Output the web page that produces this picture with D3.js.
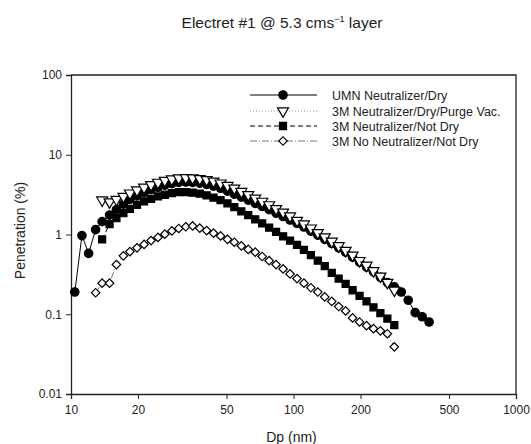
<!DOCTYPE html>
<html>
<head>
<meta charset="utf-8">
<script src="https://cdn.jsdelivr.net/npm/d3@7"></script>
<style>
  body { margin: 0; background: #fff; }
  text { font-family: "Liberation Sans", Arial, sans-serif; fill: #222; }
</style>
</head>
<body>
<div id="container"></div>
<script>
/* CONSTANTS AND GLOBALS */
const width = 531, height = 444;
const margin = { left: 71, right: 15, top: 75, bottom: 50 };

/* DATA */
// particle diameter channels (nm)
const dp = [10.4, 11.2, 12.0, 12.9, 13.8, 14.9, 16.0, 17.2, 18.4, 19.8,
  21.3, 22.9, 24.6, 26.4, 28.4, 30.5, 32.8, 35.2, 37.9, 40.7,
  43.7, 47.0, 50.5, 54.2, 58.3, 62.6, 67.3, 72.3, 77.7, 83.5,
  89.8, 96.5, 103.7, 111.4, 119.7, 128.6, 138.2, 148.6, 159.6, 171.5,
  184.3, 198.1, 212.9, 228.8, 245.8, 264.2, 283.9, 305.1, 327.8, 352.3,
  378.6, 406.8];

// penetration (%) per series, null where no point
const umnDry = [0.19, 0.97, 0.58, 1.15, 1.45, 1.75, 2.05, 2.4, 2.75, 3.05,
  3.35, 3.65, 3.9, 4.15, 4.35, 4.5, 4.55, 4.5, 4.4, 4.25,
  4.05, 3.8, 3.5, 3.2, 2.95, 2.7, 2.45, 2.25, 2.05, 1.85,
  1.68, 1.52, 1.38, 1.24, 1.1, 0.98, 0.87, 0.77, 0.68, 0.6,
  0.52, 0.45, 0.39, 0.34, 0.29, 0.25, 0.22, 0.19, 0.15, 0.105,
  0.093, 0.08];

const purgeVac = [null, null, null, null, 2.7, 2.55, 2.75, 3.0, 3.3, 3.6,
  3.9, 4.2, 4.5, 4.75, 4.95, 5.1, 5.15, 5.1, 5.0, 4.85,
  4.65, 4.4, 4.1, 3.8, 3.45, 3.15, 2.85, 2.6, 2.35, 2.1,
  1.9, 1.7, 1.5, 1.35, 1.2, 1.05, 0.93, 0.82, 0.72, 0.63,
  0.55, 0.47, 0.41, 0.35, 0.3, 0.25, 0.2];

const notDry = [null, null, null, null, 0.87, 1.35, 1.6, 1.85, 2.1, 2.35,
  2.6, 2.8, 3.0, 3.15, 3.3, 3.4, 3.4, 3.35, 3.25, 3.1,
  2.9, 2.7, 2.45, 2.2, 1.95, 1.75, 1.55, 1.38, 1.22, 1.08,
  0.95, 0.84, 0.74, 0.64, 0.55, 0.47, 0.4, 0.33, 0.28, 0.24,
  0.2, 0.17, 0.145, 0.122, 0.103, 0.088, 0.073];

const noNeutralizer = [null, null, null, 0.186, 0.245, 0.245, 0.42, 0.54, 0.61, 0.68,
  0.75, 0.84, 0.92, 1.01, 1.11, 1.19, 1.25, 1.28, 1.2, 1.12,
  1.04, 0.96, 0.87, 0.8, 0.72, 0.65, 0.6, 0.53, 0.47, 0.42,
  0.37, 0.32, 0.28, 0.245, 0.215, 0.19, 0.165, 0.145, 0.125, 0.11,
  0.09, 0.08, 0.072, 0.066, 0.062, 0.057, 0.039];

const seriesNames = ["UMN Neutralizer/Dry", "3M Neutralizer/Dry/Purge Vac.",
  "3M Neutralizer/Not Dry", "3M No Neutralizer/Not Dry"];
const xTicks = [10, 20, 50, 100, 200, 500, 1000];
const yTicks = [0.01, 0.1, 1, 10, 100];

const series = [
  { name: seriesNames[0], values: umnDry, symbol: d3.symbolCircle, size: 56, rot: 0, fill: "#000", stroke: "#000", dash: null, lineColor: "#000" },
  { name: seriesNames[1], values: purgeVac, symbol: d3.symbolTriangle, size: 52, rot: 180, fill: "#fff", stroke: "#000", dash: "1,2", lineColor: "#999" },
  { name: seriesNames[2], values: notDry, symbol: d3.symbolSquare, size: 50, rot: 0, fill: "#000", stroke: "#000", dash: "5,3", lineColor: "#000" },
  { name: seriesNames[3], values: noNeutralizer, symbol: d3.symbolSquare, size: 36, rot: 45, fill: "#fff", stroke: "#000", dash: "7,2,1,2", lineColor: "#777" }
];

/* SVG */
const svg = d3.select("#container")
  .append("svg")
  .attr("width", width)
  .attr("height", height);

// SCALES
const x = d3.scaleLog()
  .domain([10, 1000])
  .range([margin.left, width - margin.right]);

const y = d3.scaleLog()
  .domain([0.01, 100])
  .range([394, margin.top]);

// title
const title = svg.append("text")
  .attr("x", 282)
  .attr("y", 28)
  .attr("text-anchor", "middle")
  .style("font-size", "15.5px");
title.append("tspan").text("Electret #1 @ 5.3 cms");
title.append("tspan").attr("dy", -6).style("font-size", "9px").text("\u22121");
title.append("tspan").attr("dy", 6).text(" layer");

// frame (top and right)
svg.append("path")
  .attr("d", `M${x(10)},${y(100)}H${x(1000)}V${y(0.01)}`)
  .attr("fill", "none")
  .attr("stroke", "#222")
  .attr("stroke-width", 1.3);

// Axes
const xAxis = svg.append("g")
  .attr("transform", `translate(0,${y(0.01)})`)
  .call(d3.axisBottom(x).tickValues(xTicks).tickFormat(d3.format("d")).tickSizeOuter(0).tickSize(5).tickPadding(6));

const yAxis = svg.append("g")
  .attr("transform", `translate(${x(10)},0)`)
  .call(d3.axisLeft(y).tickValues(yTicks).tickFormat(d => d >= 1 ? d3.format("d")(d) : String(d)).tickSizeOuter(0).tickSize(5).tickPadding(4));

[xAxis, yAxis].forEach(g => {
  g.select(".domain").attr("stroke", "#222").attr("stroke-width", 1.3);
  g.selectAll(".tick line").attr("stroke", "#222");
  g.selectAll(".tick text").style("font-size", "12px").style("font-family", "Liberation Sans, Arial, sans-serif").attr("fill", "#222");
});

// axis labels
svg.append("text")
  .attr("x", x(100) - 2)
  .attr("y", 442)
  .attr("text-anchor", "middle")
  .style("font-size", "14px")
  .text("Dp (nm)");

svg.append("text")
  .attr("transform", `translate(25,${y(1) - 4}) rotate(-90)`)
  .attr("text-anchor", "middle")
  .style("font-size", "14px")
  .text("Penetration (%)");

// lines and markers
const line = d3.line()
  .defined(d => d.v != null)
  .x(d => x(d.d))
  .y(d => y(d.v));

series.forEach(s => {
  const pts = dp.map((d, i) => ({ d: d, v: s.values[i] }));
  svg.append("path")
    .datum(pts)
    .attr("fill", "none")
    .attr("stroke", s.lineColor)
    .attr("stroke-width", 1)
    .attr("stroke-dasharray", s.dash)
    .attr("d", line);
});

series.forEach(s => {
  const pts = dp.map((d, i) => ({ d: d, v: s.values[i] })).filter(p => p.v != null);
  svg.append("g")
    .selectAll("path")
    .data(pts)
    .join("path")
    .attr("transform", p => `translate(${x(p.d)},${y(p.v)}) rotate(${s.rot})`)
    .attr("d", d3.symbol().type(s.symbol).size(s.size))
    .attr("fill", s.fill)
    .attr("stroke", s.stroke)
    .attr("stroke-width", 1.2);
});

// legend
const legend = svg.append("g");
const legendY = [95, 111, 126, 141];
series.forEach((s, i) => {
  const g = legend.append("g").attr("transform", `translate(0,${legendY[i]})`);
  g.append("line")
    .attr("x1", 250).attr("x2", 317)
    .attr("y1", 0).attr("y2", 0)
    .attr("stroke", s.lineColor)
    .attr("stroke-width", 1)
    .attr("stroke-dasharray", s.dash);
  g.append("path")
    .attr("transform", `translate(283,0) rotate(${s.rot})`)
    .attr("d", d3.symbol().type(s.symbol).size(s.size))
    .attr("fill", s.fill)
    .attr("stroke", s.stroke)
    .attr("stroke-width", 1.2);
  g.append("text")
    .attr("x", 332)
    .attr("y", 4.5)
    .style("font-size", "12.5px")
    .text(s.name);
});
</script>
</body>
</html>
